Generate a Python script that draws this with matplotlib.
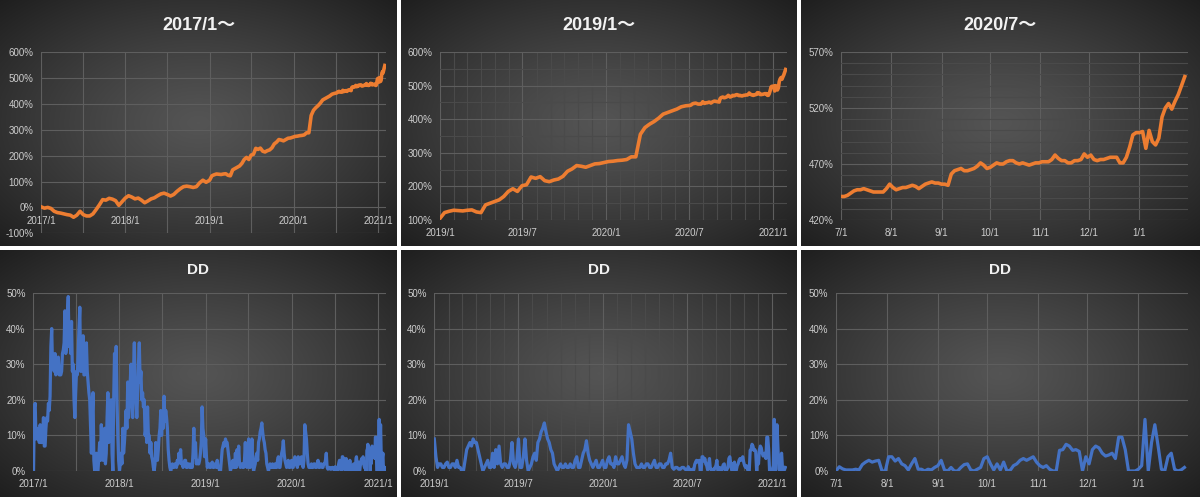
import numpy as np
import pandas as pd
import matplotlib
matplotlib.use('Agg')
import matplotlib.pyplot as plt

W, H = 1200, 497

# 累積リターン (%)  2017-2018: 2週ごと
eq_2017 = [2, -3, 0, -4, -15, -20, -22, -25, -28, -30, -38, -30, -15, -28, -33, -33,
           -25, -8, 10, 30, 28, 35, 32, 26, 8, 22, 36, 45, 40, 33, 36, 28,
           18, 25, 33, 37, 45, 52, 55, 50, 44, 50, 62, 72, 80, 82, 80, 77,
           80, 95, 105, 97]
# 2019/1 - 2020/6: 10日ごと
eq_2019 = [105, 122, 126, 129, 128, 127, 129, 130, 124, 122, 145, 150, 155, 160, 170, 185,
           193, 185, 202, 205, 228, 224, 229, 217, 214, 219, 222, 230, 245, 252, 262, 260,
           257, 262, 267, 268, 271, 274, 275, 277, 278, 280, 288, 288, 355, 375, 385, 393,
           403, 415, 420, 425, 430, 437, 440]
# 2020/7 - 2021/1: 2日ごと
eq_2020h2 = [441, 441, 442, 444, 446, 447, 447, 448, 447, 446, 445, 445, 445, 445, 448, 452,
             449, 447, 448, 449, 449, 450, 451, 450, 448, 450, 452, 453, 454, 453, 453, 452,
             452, 451, 461, 464, 465, 466, 464, 464, 465, 466, 468, 471, 469, 466, 467, 469,
             471, 470, 470, 472, 473, 473, 471, 470, 471, 470, 469, 470, 471, 471, 472, 472,
             472, 474, 478, 475, 473, 473, 471, 471, 473, 473, 474, 479, 476, 478, 474, 473,
             474, 474, 475, 476, 476, 476, 471, 471, 476, 485, 496, 498, 498, 499, 484, 500,
             490, 487, 493, 512, 520, 524, 519, 526, 532, 540, 548]

# ドローダウン (%)  2017-2018: 3.5日ごと
dd_2017 = [0, 18, 19, 9, 12, 9, 10, 8, 13, 8, 8, 10, 15, 7, 7, 12,
           15, 14, 19, 17, 21, 35, 40, 29, 30, 28, 33, 27, 28, 30, 32, 27,
           27, 27, 28, 33, 34, 36, 45, 33, 35, 44, 49, 35, 38, 33, 42, 28,
           30, 20, 15, 22, 28, 27, 33, 40, 46, 28, 28, 33, 38, 27, 27, 30,
           36, 28, 25, 22, 20, 12, 5, 15, 22, 3, 0, 3, 5, 0, 0, 4,
           8, 3, 13, 5, 3, 6, 12, 2, 5, 15, 22, 8, 10, 15, 20, 5,
           0, 20, 33, 22, 35, 20, 10, 3, 0, 2, 5, 2, 12, 5, 8, 12,
           17, 12, 25, 15, 20, 25, 30, 20, 15, 28, 36, 22, 20, 15, 22, 30,
           36, 25, 28, 20, 22, 18, 20, 10, 12, 8, 18, 10, 10, 5, 8, 4,
           3, 1, 0, 2, 8, 5, 3, 6, 10, 12, 17, 10, 15, 12, 21, 14,
           17, 15, 12, 6, 3, 1, 0, 1, 2, 1, 1, 2, 2, 1, 3, 2,
           5, 3, 6, 2, 2, 1, 2, 3, 3, 1, 1, 2, 2, 1, 1, 2,
           1, 5, 12, 4, 8, 2, 3, 2, 2, 3, 5, 8, 18, 12, 10, 4]
# 2019/1 - 2020/6: 3.5日ごと
dd_2019 = [9, 4, 1, 2, 2, 1, 1, 2, 2.5, 1, 1, 2, 2, 1, 3, 1,
           1, 0, 0, 3, 6, 7, 8, 7, 9, 8, 8, 6, 4, 2, 0, 1,
           2, 3, 1, 1, 5, 1, 6, 2, 7, 2, 1, 2, 2, 1, 1, 3,
           8, 2, 1, 3, 9, 1, 1, 4, 9, 3, 0, 1, 2, 4, 5, 3,
           8, 9, 11, 12, 13.5, 11, 9, 8, 6, 5, 2, 1, 0, 1, 2, 1,
           1, 2, 1, 1, 2, 1, 1, 3, 4, 1, 1, 3, 5, 6, 8.5, 5,
           3, 2, 1, 2, 3, 1, 1, 2, 3, 1, 1, 3, 4, 2, 2, 1,
           4, 2, 2, 3, 4, 2, 1, 3, 13, 11, 9, 5, 2, 1, 1, 1,
           2, 1, 1, 2, 2, 1, 1, 2, 3, 1, 1, 2, 2, 1, 1, 2,
           2, 3, 5, 1, 0.5, 1, 1, 0.5, 0.5, 1, 1, 0.5]
# 2020/7 - 2021/1: 2日ごと
dd_2020h2 = [0, 1.2, 0.6, 0.3, 0.3, 0.3, 0.5, 0.3, 1.8, 2.5, 3, 2.5, 2.8, 3, 0, 0,
             4, 4, 2.8, 3.5, 2, 1.5, 0.3, 2, 3.5, 0.5, 0.5, 0, 0.5, 0.3, 1, 1.5,
             3, 0.3, 0, 1, 0, 0, 1, 1.8, 2, 0.3, 0, 0.5, 1, 3.5, 4, 2,
             0.3, 2, 0.3, 2.5, 0, 0.2, 1.5, 2, 3, 3.5, 3, 3.5, 4, 2.5, 1.5, 1,
             1.5, 0.5, 0, 0, 5.8, 6, 7.5, 7, 5.8, 6, 5.5, 0, 4, 2, 6, 7,
             6.5, 5, 4.2, 4.5, 5, 3.5, 9.5, 9.5, 6, 0, 0, 0, 0.5, 1.5, 14.5, 0,
             8, 13, 7, 0.5, 0, 4, 5, 0.5, 0, 0.3, 1]

eq_dates = (pd.date_range('2017-01-02', periods=len(eq_2017), freq='14D')
            .append(pd.date_range('2019-01-01', periods=len(eq_2019), freq='10D'))
            .append(pd.date_range('2020-07-01', periods=len(eq_2020h2), freq='2D')))
eq = np.array(eq_2017 + eq_2019 + eq_2020h2, dtype=float)
dd_dates = (pd.date_range('2017-01-02', periods=len(dd_2017), freq='84h')
            .append(pd.date_range('2019-01-01', periods=len(dd_2019), freq='84h'))
            .append(pd.date_range('2020-07-01', periods=len(dd_2020h2), freq='2D')))
dd = np.array(dd_2017 + dd_2019 + dd_2020h2, dtype=float)

titles = ['2017/1～', '2019/1～', '2020/7～']
starts = ['2017-01-01', '2019-01-01', '2020-07-01']
ends = ['2021-02-03', '2021-02-01', '2021-01-31']

x_ticks = [['2017-01-01', '2018-01-01', '2019-01-01', '2020-01-01', '2021-01-01'],
           ['2019-01-01', '2019-07-01', '2020-01-01', '2020-07-01', '2021-01-01'],
           ['2020-07-01', '2020-08-01', '2020-09-01', '2020-10-01', '2020-11-01', '2020-12-01', '2021-01-01']]
x_labels = [['2017/1', '2018/1', '2019/1', '2020/1', '2021/1'],
            ['2019/1', '2019/7', '2020/1', '2020/7', '2021/1'],
            ['7/1', '8/1', '9/1', '10/1', '11/1', '12/1', '1/1']]
x_minor = [['2017-07-01', '2018-07-01', '2019-07-01', '2020-07-01'],
           list(pd.date_range('2019-02-01', '2021-01-01', freq='MS').strftime('%Y-%m-%d')),
           []]

eq_yticks = [list(range(-100, 601, 100)), list(range(100, 601, 100)), [420, 470, 520, 570]]
eq_yminor = [[], list(range(150, 600, 100)), [v for v in range(430, 570, 10) if (v - 420) % 50]]
dd_yticks = [0, 10, 20, 30, 40, 50]

ORANGE = '#ED7D31'
BLUE = '#4472C4'
GRID = '#5e5e5e'
GRID_MINOR = '#4a4a4a'
LABEL = '#cdcdcd'
FONT = ['Liberation Sans', 'Noto Sans CJK JP', 'DejaVu Sans']
plt.rcParams['font.family'] = FONT

fig = plt.figure(figsize=(W / 100, H / 100), dpi=100, facecolor='white')

cols = [(0, 397), (401, 797), (801, 1200)]
rows = [(0, 246), (250, 497)]
eq_axes = [(41, 52, 386, 233.3), (440, 52, 787, 220), (841, 52, 1188, 220)]
dd_axes = [(33.3, 293, 386, 471), (434.3, 293, 786.7, 471), (836, 293, 1187.7, 471)]


def rect(x0, y0, x1, y1):
    return [x0 / W, 1 - y1 / H, (x1 - x0) / W, (y1 - y0) / H]


def panel_bg(x0, y0, x1, y1):
    bg = fig.add_axes(rect(x0, y0, x1, y1), zorder=0)
    yy, xx = np.mgrid[-1:1:250j, -1:1:400j]
    r = np.clip(np.sqrt(xx ** 2 + yy ** 2) / np.sqrt(2), 0, 1)
    g = 0.33 - 0.21 * r ** 1.2
    bg.imshow(np.dstack([g, g, g]), aspect='auto', extent=[0, 1, 0, 1])
    bg.axis('off')


def style(ax, i, yt, ym):
    ax.set_facecolor('none')
    for s in ax.spines.values():
        s.set_visible(False)
    ax.set_xticks(pd.to_datetime(x_ticks[i]))
    ax.set_xticklabels(x_labels[i])
    if x_minor[i]:
        ax.set_xticks(pd.to_datetime(x_minor[i]), minor=True)
    ax.set_yticks(yt)
    ax.set_yticklabels([f'{v}%' for v in yt])
    if ym:
        ax.set_yticks(ym, minor=True)
    ax.set_xlim(pd.Timestamp(starts[i]), pd.Timestamp(ends[i]))
    ax.set_ylim(yt[0], yt[-1])
    ax.grid(True, which='major', color=GRID, lw=0.8)
    ax.grid(True, which='minor', color=GRID if i == 0 else GRID_MINOR, lw=0.8)
    ax.tick_params(which='both', length=0, colors=LABEL, labelsize=7)
    ax.tick_params(axis='x', pad=6)
    ax.tick_params(axis='y', pad=5.5)
    ax.set_axisbelow(True)


for i in range(3):
    c0, c1 = cols[i]
    for r0, r1 in rows:
        panel_bg(c0, r0, c1, r1)

    # 累積リターン
    ax = fig.add_axes(rect(*eq_axes[i]), zorder=2)
    style(ax, i, eq_yticks[i], eq_yminor[i])
    m = eq_dates >= pd.Timestamp(starts[i])
    ax.plot(eq_dates[m], eq[m], color=ORANGE, lw=2.6, solid_joinstyle='round')
    if i == 0:
        ax.spines['bottom'].set_position(('data', 0))
    fig.text((c0 + c1) / 2 / W, 1 - 25 / H, titles[i], color='#f2f2f2',
             fontsize=13, fontweight='bold', ha='center', va='center')

    # DD
    ax = fig.add_axes(rect(*dd_axes[i]), zorder=2)
    style(ax, i, dd_yticks, [])
    m = dd_dates >= pd.Timestamp(starts[i])
    ax.plot(dd_dates[m], dd[m], color=BLUE, lw=2.3, solid_joinstyle='round')
    fig.text((c0 + c1) / 2 / W, 1 - 270.5 / H, 'DD', color='#f2f2f2',
             fontsize=11, fontweight='bold', ha='center', va='center')

fig.savefig('out.png', dpi=100, facecolor='white')
